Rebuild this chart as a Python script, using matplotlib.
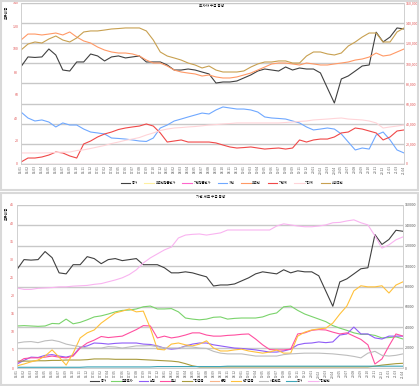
import matplotlib.pyplot as plt
from matplotlib.patches import Rectangle
import pandas as pd

plt.rcParams['font.family'] = ['Noto Sans CJK KR', 'DejaVu Sans']

# ---- data ----
dates = pd.date_range('2016-01-01', periods=56, freq='5W').strftime('%y.%m')

close = [96700, 106400, 105900, 106400, 114300, 108300, 93400, 92400, 101400, 101400,
         109300, 107400, 102400, 106400, 107400, 105400, 106400, 107400, 101400, 101400,
         101400, 98400, 93400, 93400, 94400, 93400, 91400, 89500, 80500, 81500,
         81500, 82500, 85500, 88500, 92400, 94400, 93400, 92400, 96400, 93400,
         95400, 94400, 94400, 90500, 75500, 60600, 84500, 87500, 92400, 97400,
         98400, 131000, 121300, 126200, 135200, 134200]

# top chart: investor ratios (left axis)
frgn_avg = [0.0] * 56
inst_avg = [0.0] * 56
retail = [45.2, 40.0, 37.4, 38.3, 36.5, 32.2, 35.7, 33.9, 33.9, 30.4,
          27.8, 27.0, 26.1, 22.6, 22.2, 21.7, 20.9, 20.0, 19.6, 22.6,
          31.3, 33.9, 37.4, 39.1, 40.9, 42.6, 44.3, 43.5, 47.0, 49.6,
          48.7, 47.8, 47.8, 47.0, 45.2, 40.9, 40.0, 39.6, 39.1, 37.4,
          35.7, 32.2, 29.6, 30.4, 31.3, 30.4, 26.1, 19.1, 12.2, 13.9,
          13.0, 25.2, 27.8, 20.9, 12.2, 9.6]
foreign = [107.8, 113.0, 113.0, 112.2, 113.0, 113.9, 112.2, 114.8, 110.4, 107.0,
           105.2, 101.7, 99.1, 97.4, 96.5, 96.5, 95.7, 93.9, 90.4, 87.8,
           87.8, 85.2, 81.7, 80.0, 79.1, 78.3, 76.5, 77.4, 75.7, 74.8,
           74.8, 75.7, 77.4, 79.1, 81.7, 84.3, 87.0, 87.8, 87.8, 87.0,
           86.1, 87.8, 87.0, 86.1, 86.1, 87.0, 87.8, 88.7, 90.4, 91.3,
           93.0, 96.5, 93.9, 94.8, 97.4, 100.0]
inst_total = [1.7, 5.2, 5.2, 6.1, 7.8, 10.4, 9.6, 7.0, 5.2, 17.4,
              20.0, 23.5, 26.1, 27.8, 30.0, 31.3, 32.2, 33.0, 34.8, 33.0,
              27.0, 19.1, 20.0, 20.9, 19.1, 19.1, 19.1, 19.1, 18.3, 16.5,
              14.8, 13.9, 14.3, 14.8, 13.9, 13.0, 13.5, 13.9, 13.0, 13.9,
              20.9, 19.1, 20.9, 21.7, 21.7, 23.5, 27.0, 27.8, 31.3, 30.4,
              28.7, 27.0, 20.9, 23.5, 28.7, 29.6]
other_total = [9.6, 9.6, 9.6, 9.6, 9.7, 10.0, 10.3, 10.4, 11.7, 12.3,
               13.5, 14.8, 16.1, 17.8, 19.1, 20.6, 21.7, 23.0, 25.2, 27.0,
               29.1, 30.4, 31.3, 31.7, 32.2, 32.6, 33.2, 33.9, 34.3, 34.8,
               35.2, 35.7, 35.7, 35.7, 35.7, 35.7, 35.7, 35.7, 36.1, 36.5,
               37.0, 37.4, 38.3, 38.7, 39.1, 39.6, 40.0, 39.1, 38.7, 38.3,
               37.4, 35.7, 31.3, 32.2, 33.0, 33.9]
dom_frgn = [99.1, 104.3, 106.1, 105.2, 108.7, 111.3, 107.8, 106.1, 109.6, 114.8,
            115.7, 115.7, 116.5, 117.4, 117.8, 118.3, 118.3, 118.3, 115.7, 107.8,
            97.4, 93.9, 92.2, 90.4, 87.8, 86.1, 83.5, 85.2, 81.7, 80.0,
            80.0, 80.0, 80.9, 84.3, 87.0, 88.7, 88.7, 89.6, 89.6, 87.8,
            87.8, 93.9, 97.4, 97.4, 95.7, 94.8, 96.5, 102.6, 106.1, 110.4,
            113.9, 113.9, 106.1, 106.1, 114.8, 118.3]

# bottom chart: institution detail (left axis)
fin_invest = [11.6, 11.7, 11.6, 11.5, 11.6, 12.3, 12.2, 13.5, 12.2, 12.6,
              13.3, 14.1, 14.4, 14.9, 15.5, 15.9, 16.0, 16.3, 16.9, 17.1,
              16.3, 16.3, 16.4, 15.5, 13.8, 13.5, 13.3, 13.5, 14.0, 14.1,
              13.5, 13.7, 13.8, 13.8, 13.8, 14.1, 14.8, 15.2, 16.9, 17.1,
              15.9, 14.9, 14.2, 13.5, 12.8, 11.7, 11.0, 10.4, 9.7, 9.3,
              9.3, 9.0, 8.3, 8.4, 8.6, 8.0]
insurance = [1.1, 2.1, 3.0, 2.9, 3.5, 3.7, 3.3, 3.0, 3.5, 5.7,
             6.1, 6.9, 6.8, 6.6, 6.8, 6.9, 6.9, 6.9, 6.6, 6.5,
             6.1, 5.5, 5.2, 5.4, 6.1, 6.6, 6.9, 6.9, 6.4, 6.1,
             5.8, 5.5, 5.4, 5.2, 5.0, 4.7, 4.4, 4.4, 4.7, 5.2,
             6.4, 6.8, 6.9, 7.2, 7.0, 7.2, 9.1, 9.4, 11.3, 9.4,
             9.4, 8.3, 8.0, 8.8, 8.8, 8.8]
trust = [1.4, 2.6, 2.8, 2.8, 3.0, 3.3, 3.0, 2.8, 3.3, 5.5,
         6.9, 7.7, 8.7, 8.4, 8.6, 8.8, 9.7, 10.6, 11.7, 11.6,
         8.3, 8.8, 8.3, 8.6, 9.1, 9.7, 9.7, 9.1, 8.8, 8.8,
         9.0, 9.1, 9.3, 9.4, 8.0, 6.4, 5.1, 5.0, 5.0, 5.2,
         9.4, 9.7, 10.4, 10.6, 10.5, 9.9, 9.4, 9.7, 8.8, 7.9,
         6.4, 1.1, 2.5, 6.1, 9.4, 8.8]
other_fin = [1.9, 1.9, 1.9, 2.0, 2.0, 2.1, 2.1, 2.2, 2.2, 2.2,
             2.3, 2.5, 2.5, 2.5, 2.4, 2.4, 2.4, 2.4, 2.3, 2.2,
             2.1, 2.0, 1.9, 1.7, 1.2, 0.6, 0.3, 0.3, 0.3, 0.3,
             0.3, 0.3, 0.3, 0.3, 0.3, 0.3, 0.3, 0.3, 0.3, 0.3,
             0.3, 0.3, 0.3, 0.3, 0.3, 0.3, 0.3, 0.3, 0.3, 0.3,
             0.3, 0.5, 0.8, 1.0, 1.2, 1.3]
bank = [0.0] * 56
pension = [0.6, 1.1, 1.7, 2.2, 3.3, 5.0, 3.0, 0.8, 4.1, 8.3,
           9.7, 10.5, 12.4, 13.8, 15.2, 15.7, 16.3, 15.5, 15.7, 11.0,
           5.2, 5.0, 6.6, 6.9, 6.4, 6.1, 6.6, 7.5, 5.5, 4.7,
           4.7, 5.0, 5.2, 4.7, 4.4, 4.1, 4.4, 5.0, 4.1, 4.1,
           8.8, 9.9, 10.5, 10.8, 11.0, 12.4, 14.9, 17.1, 21.3, 22.7,
           22.4, 22.4, 22.7, 20.7, 22.9, 23.8]
private_fund = [6.9, 7.2, 7.3, 7.0, 7.5, 7.7, 7.3, 6.6, 6.2, 5.9,
                5.5, 5.5, 5.5, 5.9, 5.8, 5.5, 5.8, 6.1, 6.1, 6.2,
                5.9, 5.5, 5.5, 5.5, 5.9, 5.8, 5.5, 5.4, 4.6, 4.1,
                3.9, 3.9, 3.9, 3.6, 3.3, 3.3, 3.3, 3.3, 3.7, 3.9,
                4.0, 4.1, 4.1, 4.1, 4.0, 3.9, 3.7, 3.5, 3.2, 2.8,
                4.1, 4.6, 3.5, 3.3, 3.5, 3.9]
nation = [0.2, 0.2, 0.2, 0.2, 0.2, 0.2, 0.2, 0.2, 0.2, 0.2,
          0.3, 0.3, 0.3, 0.3, 0.3, 0.3, 0.3, 0.3, 0.3, 0.3,
          0.4, 0.4, 0.4, 0.4, 0.4, 0.4, 0.4, 0.4, 0.4, 0.4,
          0.5, 0.5, 0.5, 0.5, 0.5, 0.5, 0.5, 0.5, 0.5, 0.5,
          0.5, 0.5, 0.5, 0.5, 0.5, 0.5, 0.5, 0.5, 0.5, 0.5,
          0.5, 0.5, 0.5, 0.5, 0.5, 0.5]
other_corp = [22.1, 21.7, 21.7, 22.0, 22.1, 22.2, 22.4, 22.4, 22.6, 22.7,
              22.8, 23.1, 23.3, 23.8, 24.3, 24.9, 25.8, 27.1, 29.0, 30.4,
              31.5, 32.6, 33.4, 35.9, 36.7, 36.9, 37.0, 36.7, 37.0, 37.3,
              38.1, 38.1, 38.1, 38.1, 38.1, 38.1, 38.1, 39.2, 39.8, 39.5,
              39.2, 39.0, 39.0, 39.2, 39.5, 40.1, 40.2, 40.6, 40.9, 40.1,
              39.5, 36.5, 33.1, 34.0, 35.4, 36.2]

top_series = [('외국인평균단가', frgn_avg, '#fff0a0'),
              ('기관평균단가', inst_avg, '#ff66cc'),
              ('개인', retail, '#6fa8ff'),
              ('외국인', foreign, '#ff9966'),
              ('기관계', inst_total, '#f04848'),
              ('기타계', other_total, '#ffd4d8'),
              ('내외국인', dom_frgn, '#c8a050')]

bottom_series = [('금융투자', fin_invest, '#7ad36b'),
                 ('보험', insurance, '#8f5cf7'),
                 ('투신', trust, '#ff4fa0'),
                 ('기타금융', other_fin, '#a89a3c'),
                 ('은행', bank, '#f7b48a'),
                 ('연기금등', pension, '#ffc13b'),
                 ('사모펀드', private_fund, '#bdbdbd'),
                 ('국가', nation, '#3fa6b8'),
                 ('기타법인', other_corp, '#f9b3f0')]

W, H = 420, 386
fig = plt.figure(figsize=(W / 100, H / 100), dpi=100)

# chart area frames
for y0, y1 in [(1, 190), (193, 385)]:
    fig.patches.append(Rectangle((1 / W, 1 - y1 / H), 417 / W, (y1 - y0) / H,
                                 transform=fig.transFigure, fill=False,
                                 edgecolor='#d9d9d9', linewidth=1.5))


def setup(ax, axr, lmax, lstep, rfmt, lcolor, rcolor):
    xs = range(len(close))
    axr.plot(xs, close, color='#404040', linewidth=0.8, label='종가')
    axr.set_ylim(0, 160000)
    axr.set_yticks(range(0, 160001, 20000))
    axr.set_yticklabels([rfmt.format(v) for v in range(0, 160001, 20000)])
    axr.grid(axis='y', color='#c8c8c8', linewidth=1.0)
    axr.set_axisbelow(True)
    ax.set_zorder(axr.get_zorder() + 1)
    ax.patch.set_visible(False)
    ax.set_ylim(0, lmax)
    ax.set_yticks(range(0, lmax + 1, lstep))
    ax.set_xlim(0, len(close) - 1)
    ax.set_xticks(list(xs))
    ax.set_xticklabels(dates, rotation=90, fontsize=2.3, color='#555555')
    ax.tick_params(axis='y', length=0, labelsize=2.6, labelcolor=lcolor, pad=2)
    ax.tick_params(axis='x', length=0, pad=1)
    axr.tick_params(axis='y', length=0, labelsize=2.6, labelcolor=rcolor, pad=1.5)
    for a in (ax, axr):
        for s in a.spines.values():
            s.set_color('#d0d0d0')
            s.set_linewidth(0.6)
        a.spines['top'].set_visible(False)


# ---- top chart ----
ax1 = fig.add_axes([21 / W, 1 - 164 / H, 383 / W, 161 / H])
ax1r = ax1.twinx()
setup(ax1, ax1r, 140, 20, '{:,}', '#e05050', '#e05050')
for name, vals, c in top_series:
    ax1.plot(range(len(vals)), vals, color=c, linewidth=0.8, label=name)
h1, l1 = ax1r.get_legend_handles_labels()
h2, l2 = ax1.get_legend_handles_labels()
fig.legend(h1 + h2, l1 + l2, loc='center', bbox_to_anchor=(232 / W, 1 - 183 / H),
           ncol=8, fontsize=2.3, frameon=False, handlelength=3.0,
           handletextpad=0.4, columnspacing=2.2)
fig.text(212 / W, 1 - 6 / H, '투자자 수급 동향', fontsize=2.6, ha='center', va='center')
fig.text(7 / W, 1 - 12 / H, '보유비중', fontsize=2.6, rotation=90, ha='center', va='center')

# ---- bottom chart ----
ax2 = fig.add_axes([17 / W, 1 - 368 / H, 386 / W, 163 / H])
ax2r = ax2.twinx()
setup(ax2, ax2r, 45, 5, '{}', '#e05050', '#555555')
for name, vals, c in bottom_series:
    ax2.plot(range(len(vals)), vals, color=c, linewidth=0.8, label=name)
h1, l1 = ax2r.get_legend_handles_labels()
h2, l2 = ax2.get_legend_handles_labels()
fig.legend(h1 + h2, l1 + l2, loc='center', bbox_to_anchor=(210 / W, 1 - 381 / H),
           ncol=10, fontsize=2.3, frameon=False, handlelength=3.0,
           handletextpad=0.4, columnspacing=1.6)
fig.text(211 / W, 1 - 197 / H, '기관 세부 수급 동향', fontsize=2.6, ha='center', va='center')
fig.text(7 / W, 1 - 213 / H, '보유비중', fontsize=2.6, rotation=90, ha='center', va='center')

fig.savefig('out.png', dpi=100)
